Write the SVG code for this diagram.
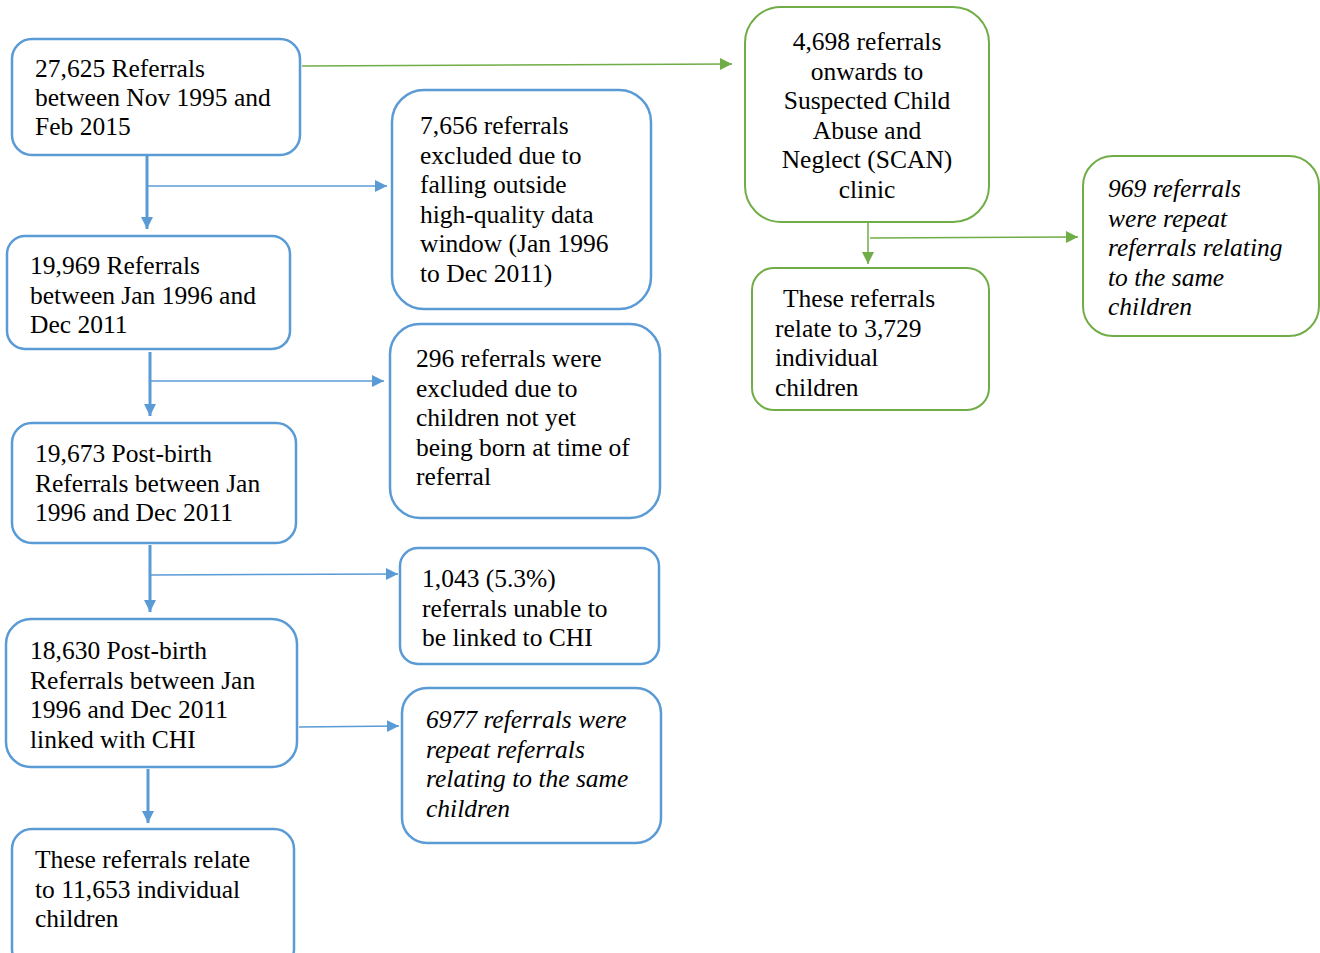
<svg xmlns="http://www.w3.org/2000/svg" width="1320" height="953" viewBox="0 0 1320 953">
<style>
.b{fill:#fff;stroke:#5b9bd5;stroke-width:2.5}
.g{fill:#fff;stroke:#70ad47;stroke-width:2}
text{font-size:25.5px;fill:#000}
.i{font-style:italic}
.m{text-anchor:middle}
.cb{stroke:#5b9bd5;fill:none}
.cg{stroke:#70ad47;fill:none}
</style>
<defs>
<marker id="ab" markerUnits="userSpaceOnUse" markerWidth="14" markerHeight="14" refX="12" refY="6" orient="auto"><path d="M0,0 L12,6 L0,12 Z" fill="#5b9bd5"/></marker>
<marker id="ag" markerUnits="userSpaceOnUse" markerWidth="14" markerHeight="14" refX="12" refY="6" orient="auto"><path d="M0,0 L12,6 L0,12 Z" fill="#70ad47"/></marker>
</defs>
<g id="connectors">
<path class="cg" stroke-width="1.5" d="M302,66 L732,64" marker-end="url(#ag)"/>
<path class="cb" stroke-width="3" d="M147,156 L147,229" marker-end="url(#ab)"/>
<path class="cb" stroke-width="1.5" d="M147,186 L387,186" marker-end="url(#ab)"/>
<path class="cb" stroke-width="3" d="M150,352 L150,416" marker-end="url(#ab)"/>
<path class="cb" stroke-width="1.5" d="M150,381 L384,381" marker-end="url(#ab)"/>
<path class="cb" stroke-width="3" d="M150,545 L150,612" marker-end="url(#ab)"/>
<path class="cb" stroke-width="1.5" d="M150,575 L398,574" marker-end="url(#ab)"/>
<path class="cb" stroke-width="1.5" d="M299,727 L399,726" marker-end="url(#ab)"/>
<path class="cb" stroke-width="3" d="M148,769 L148,823" marker-end="url(#ab)"/>
<path class="cg" stroke-width="1.5" d="M868,218 L868,264" marker-end="url(#ag)"/>
<path class="cg" stroke-width="1.5" d="M870,238 L1078,237" marker-end="url(#ag)"/>
</g>
<g font-family="Liberation Serif, Times New Roman, serif">
<g id="n1"><rect class="b" x="12" y="39" width="288" height="116" rx="20"/>
<text x="35" y="77">27,625 Referrals</text><text x="35" y="106">between Nov 1995 and</text><text x="35" y="135">Feb 2015</text></g>
<g id="n2"><rect class="b" x="7" y="236" width="283" height="113" rx="18"/>
<text x="30" y="274">19,969 Referrals</text><text x="30" y="303.5">between Jan 1996 and</text><text x="30" y="333">Dec 2011</text></g>
<g id="n3"><rect class="b" x="12" y="423" width="284" height="120" rx="20"/>
<text x="35" y="462">19,673 Post-birth</text><text x="35" y="491.5">Referrals between Jan</text><text x="35" y="521">1996 and Dec 2011</text></g>
<g id="n4"><rect class="b" x="6" y="619" width="291" height="148" rx="25"/>
<text x="30" y="659">18,630 Post-birth</text><text x="30" y="688.5">Referrals between Jan</text><text x="30" y="718">1996 and Dec 2011</text><text x="30" y="747.5">linked with CHI</text></g>
<g id="n5"><rect class="b" x="12" y="829" width="282" height="140" rx="20"/>
<text x="35" y="868">These referrals relate</text><text x="35" y="897.5">to 11,653 individual</text><text x="35" y="927">children</text></g>
<g id="n6"><rect class="b" x="392" y="90" width="259" height="219" rx="32"/>
<text x="420" y="134">7,656 referrals</text><text x="420" y="163.5">excluded due to</text><text x="420" y="193">falling outside</text><text x="420" y="222.5">high-quality data</text><text x="420" y="252">window (Jan 1996</text><text x="420" y="281.5">to Dec 2011)</text></g>
<g id="n7"><rect class="b" x="390" y="324" width="270" height="194" rx="30"/>
<text x="416" y="367">296 referrals were</text><text x="416" y="396.5">excluded due to</text><text x="416" y="426">children not yet</text><text x="416" y="455.5">being born at time of</text><text x="416" y="485">referral</text></g>
<g id="n8"><rect class="b" x="400" y="548" width="259" height="116" rx="18"/>
<text x="422" y="587">1,043 (5.3%)</text><text x="422" y="616.5">referrals unable to</text><text x="422" y="646">be linked to CHI</text></g>
<g id="n9"><rect class="b" x="402" y="688" width="259" height="155" rx="25"/>
<text class="i" x="426" y="728">6977 referrals were</text><text class="i" x="426" y="757.5">repeat referrals</text><text class="i" x="426" y="787">relating to the same</text><text class="i" x="426" y="816.5">children</text></g>
<g id="n10"><rect class="g" x="745" y="7" width="244" height="215" rx="36"/>
<text class="m" x="867" y="50">4,698 referrals</text><text class="m" x="867" y="79.5">onwards to</text><text class="m" x="867" y="109">Suspected Child</text><text class="m" x="867" y="138.5">Abuse and</text><text class="m" x="867" y="168">Neglect (SCAN)</text><text class="m" x="867" y="197.5">clinic</text></g>
<g id="n11"><rect class="g" x="752" y="268" width="237" height="142" rx="22"/>
<text x="783" y="307">These referrals</text><text x="775" y="336.5">relate to 3,729</text><text x="775" y="366">individual</text><text x="775" y="395.5">children</text></g>
<g id="n12"><rect class="g" x="1083" y="156" width="236" height="180" rx="30"/>
<text class="i" x="1108" y="197">969 referrals</text><text class="i" x="1108" y="226.5">were repeat</text><text class="i" x="1108" y="256">referrals relating</text><text class="i" x="1108" y="285.5">to the same</text><text class="i" x="1108" y="315">children</text></g>
</g>
</svg>
